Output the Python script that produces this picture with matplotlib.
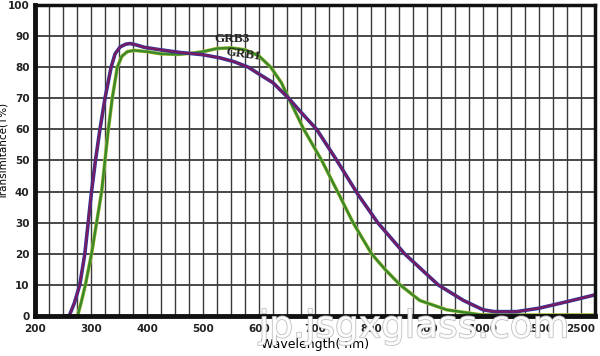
import numpy as np
import matplotlib
matplotlib.use("Agg")
import matplotlib.pyplot as plt
import matplotlib.patheffects as pe
from matplotlib.ticker import FixedLocator, NullFormatter

# tick wavelengths (axis is evenly spaced per label, not linear in nm)
tick_nm = [200, 300, 400, 500, 600, 700, 800, 900, 1000, 1500, 2500]
tick_labels = ["200", "300", "400", "500", "600", "700", "800", "900", "1000", "1500", "2500"]
y_ticks = [0, 10, 20, 30, 40, 50, 60, 70, 80, 90, 100]

grb1_nm = [255, 261, 270, 280, 289, 295, 301, 308, 316, 325, 336, 343, 352, 362, 370,
           380, 395, 420, 456, 500, 530, 555, 581, 600, 625, 653, 675, 703, 739,
           777, 812, 860, 920, 965, 1000, 1100, 1300, 1500, 2000, 2500]
grb1_t = [0, 0, 4, 10, 20, 30, 40, 50, 60, 70, 80, 84.3, 86.5, 87.4, 87.6,
          87.2, 86.4, 85.7, 84.8, 84, 83, 81.8, 80, 77.8, 75, 70, 65.5, 60, 50,
          39, 30, 20, 10, 5, 2, 1.4, 1.4, 2.5, 4.6, 6.8]

grb3_nm = [268, 276, 282, 290, 301, 310, 319, 325, 331, 338, 347, 355, 365, 377, 400,
           425, 456, 480, 500, 525, 550, 575, 600, 621, 640, 653, 680, 712, 743,
           768, 801, 825, 852, 887, 935, 995, 1100, 1500, 2000, 2500]
grb3_t = [0, 0, 4, 10, 20, 30, 40, 50, 60, 70, 80, 83.5, 85, 85.4, 85,
          84.3, 84.1, 84.5, 85, 86, 86.2, 85.6, 83.6, 80, 75, 70, 60, 50, 39,
          30, 20, 15, 10, 5, 2, 0.4, 0.3, 0.3, 0.3, 0.3]

idx = np.arange(len(tick_nm), dtype=float)


def fwd(x):
    return np.interp(x, tick_nm, idx)


def inv(i):
    return np.interp(i, idx, tick_nm)


fig = plt.figure(figsize=(6, 3.56), dpi=100)
ax = fig.add_axes([0.0583, 0.1124, 0.9334, 0.8736])
ax.set_xscale('function', functions=(fwd, inv))
ax.set_xlim(200, 2500)
ax.set_ylim(0, 100)

# grid
ax.xaxis.set_major_locator(FixedLocator(tick_nm))
ax.xaxis.set_minor_locator(FixedLocator(inv(np.arange(0, 10.01, 0.25))))
ax.xaxis.set_minor_formatter(NullFormatter())
ax.set_xticklabels(tick_labels)
ax.set_yticks(y_ticks)
ax.grid(True, which='both', axis='x', color='#3a3a3a', lw=1.0)
ax.grid(True, which='major', axis='y', color='#3a3a3a', lw=1.3)
ax.set_axisbelow(True)
ax.tick_params(which='both', length=0, labelsize=7.5, colors='#222222')
ax.tick_params(axis='x', pad=6)
ax.tick_params(axis='y', pad=4)
for lab in ax.get_xticklabels() + ax.get_yticklabels():
    lab.set_fontweight('bold')
xl = ax.get_xticklabels()
xl[-1].set_horizontalalignment('right')
for side, sp in ax.spines.items():
    sp.set_linewidth(2.5)
    sp.set_color('#111111')
ax.spines['bottom'].set_linewidth(3.5)
ax.spines['left'].set_linewidth(3.5)

# curves
ax.plot(grb3_nm, grb3_t, color='#b8c040', lw=2.6, solid_capstyle='round')
ax.plot(grb3_nm, grb3_t, color='#3a8a2a', lw=1.8)
ax.plot(grb1_nm, grb1_t, color='#2a3aa0', lw=2.6)
ax.plot(grb1_nm, grb1_t, color='#7a1a60', lw=1.6)

ax.text(552, 89, "GRB3", fontfamily='Liberation Serif', fontweight='bold',
        fontsize=9.5, color='#222222', ha='center', va='center')
ax.text(572, 84, "GRB1", fontfamily='Liberation Serif', fontweight='bold',
        fontsize=9.5, color='#222222', ha='center', va='center', rotation=-8)

ax.set_ylabel("Transimitance(T%)", fontsize=7.5)
ax.yaxis.set_label_coords(-0.047, 0.53)
ax.set_xlabel("Wavelength( nm)", fontsize=9, labelpad=3)

# watermark
fig.text(0.69, 0.03, "jp.jsgxglass.com", fontsize=27, color='white',
         ha='center', va='bottom', alpha=0.9,
         path_effects=[pe.withStroke(linewidth=1.2, foreground='#bbbbbb')])

fig.savefig("out.png", dpi=100)
